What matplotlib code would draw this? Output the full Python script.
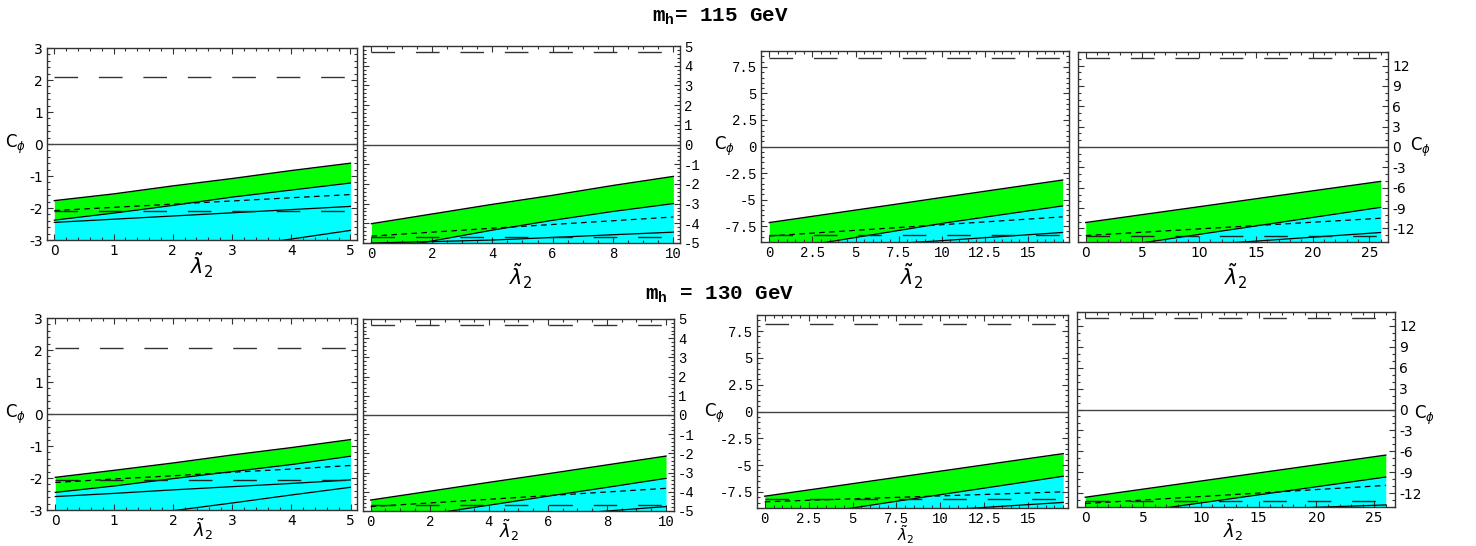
import matplotlib
matplotlib.use("Agg")
import matplotlib.pyplot as plt
from matplotlib.ticker import MultipleLocator, AutoMinorLocator

W, H = 1476, 546

# ---------------- data ----------------
titles = ["m$_\\mathregular{h}$= 115 GeV", "m$_\\mathregular{h}$ = 130 GeV"]
xlabel = r"$\tilde{\lambda}_2$"
ylabel = r"C$_\phi$"

# panel 1 (mh=115, x 0..5)
p1_x = [0, 1, 2, 3, 4, 5]
p1_upper = [-1.77, -1.56, -1.31, -1.08, -0.83, -0.60]
p1_lower = [-2.38, -2.16, -1.92, -1.66, -1.44, -1.22]
p1_solid = [-2.45, -2.35, -2.25, -2.15, -2.05, -1.95]
p1_short = [-2.08, -1.98, -1.88, -1.78, -1.68, -1.58]
p1_bottom = [-4.05, -3.78, -3.51, -3.24, -2.97, -2.70]
p1_level = 2.08

# panel 2 (mh=115, x 0..10)
p2_x = [0, 2, 4, 6, 8, 10]
p2_upper = [-4.02, -3.53, -3.04, -2.58, -2.08, -1.62]
p2_lower = [-5.40, -4.90, -4.35, -3.85, -3.40, -3.00]
p2_solid = [-5.00, -4.93, -4.85, -4.72, -4.58, -4.45]
p2_short = [-4.65, -4.45, -4.25, -4.06, -3.87, -3.68]
p2_bottom = None
p2_level = 4.69

# panel 3 (mh=115, x 0..17)
p3_x = [0, 3.4, 6.8, 10.2, 13.6, 17]
p3_upper = [-7.17, -6.37, -5.57, -4.76, -3.96, -3.16]
p3_lower = [-9.85, -9.00, -8.10, -7.20, -6.40, -5.60]
p3_solid = [-9.80, -9.55, -9.20, -8.85, -8.47, -8.10]
p3_short = [-8.43, -8.07, -7.71, -7.35, -6.99, -6.63]
p3_bottom = None
p3_level = 8.30

# panel 4 (mh=115, x 0..26)
p4_x = [0, 5.2, 10.4, 15.6, 20.8, 26]
p4_upper = [-11.13, -9.92, -8.71, -7.49, -6.28, -5.07]
p4_lower = [-15.37, -14.07, -12.78, -11.49, -10.19, -8.90]
p4_solid = [-15.60, -15.00, -14.40, -13.80, -13.20, -12.60]
p4_short = [-13.05, -12.54, -12.03, -11.52, -11.01, -10.50]
p4_bottom = None
p4_level = 13.05

# panel 5 (mh=130, x 0..5)
p5_x = [0, 1, 2, 3, 4, 5]
p5_upper = [-1.98, -1.76, -1.53, -1.28, -1.05, -0.80]
p5_lower = [-2.45, -2.25, -2.02, -1.80, -1.58, -1.32]
p5_solid = [-2.58, -2.48, -2.37, -2.27, -2.17, -2.06]
p5_short = [-2.14, -2.03, -1.93, -1.82, -1.72, -1.61]
p5_bottom = [-3.51, -3.27, -3.02, -2.78, -2.53, -2.29]
p5_level = 2.07

# panel 6 (mh=130, x 0..10)
p6_x = [0, 2, 4, 6, 8, 10]
p6_upper = [-4.43, -3.97, -3.51, -3.06, -2.60, -2.14]
p6_lower = [-5.63, -5.16, -4.70, -4.23, -3.77, -3.30]
p6_solid = [-5.92, -5.69, -5.46, -5.23, -5.00, -4.77]
p6_short = [-4.77, -4.58, -4.39, -4.20, -4.01, -3.82]
p6_bottom = None
p6_level = 4.69

# panel 7 (mh=130, x 0..17)
p7_x = [0, 3.4, 6.8, 10.2, 13.6, 17]
p7_upper = [-7.90, -7.11, -6.31, -5.52, -4.72, -3.93]
p7_lower = [-10.23, -9.39, -8.55, -7.71, -6.88, -6.04]
p7_solid = [-10.25, -9.90, -9.54, -9.19, -8.83, -8.48]
p7_short = [-8.42, -8.23, -8.05, -7.86, -7.68, -7.49]
p7_bottom = None
p7_level = 8.20

# panel 8 (mh=130, x 0..26)
p8_x = [0, 5.2, 10.4, 15.6, 20.8, 26]
p8_upper = [-12.60, -11.39, -10.18, -8.97, -7.76, -6.55]
p8_lower = [-15.74, -14.53, -13.32, -12.12, -10.91, -9.70]
p8_solid = [-15.30, -15.00, -14.70, -14.30, -14.00, -13.70]
p8_short = [-13.50, -12.98, -12.46, -11.94, -11.42, -10.90]
p8_bottom = None
p8_level = 13.10

# ---------------- layout / styles ----------------
GREEN = "#00ff00"
CYAN = "#00ffff"
SANS = "DejaVu Sans"
MONO = "Liberation Mono"

panels = [
    dict(d=(p1_x, p1_upper, p1_lower, p1_solid, p1_short, p1_bottom, p1_level),
         rect=(47, 48, 357, 240), xlim=(-0.124, 5.11), ylim=(-3, 3), xmaj=1, ymaj=1,
         xmin=5, ymin=5, side="left", font=SANS, ylab=(-0.10, 0.5), xlab=(202, 265, 15)),
    dict(d=(p2_x, p2_upper, p2_lower, p2_solid, p2_short, p2_bottom, p2_level),
         rect=(363, 46, 680, 243), xlim=(-0.28, 10.22), ylim=(-5, 5), xmaj=2, ymaj=1,
         xmin=4, ymin=5, side="right", font=MONO, ylab=None, xlab=(521, 276, 15)),
    dict(d=(p3_x, p3_upper, p3_lower, p3_solid, p3_short, p3_bottom, p3_level),
         rect=(761, 51, 1069, 242), xlim=(-0.48, 17.37), ylim=(-9, 9), xmaj=2.5, ymaj=2.5,
         xmin=5, ymin=5, side="left", font=MONO, ylab=(-0.117, 0.5), xlab=(912, 276, 15)),
    dict(d=(p4_x, p4_upper, p4_lower, p4_solid, p4_short, p4_bottom, p4_level),
         rect=(1078, 52, 1388, 242), xlim=(-0.68, 26.65), ylim=(-14, 14), xmaj=5, ymaj=3,
         xmin=5, ymin=3, side="right", font=SANS, ylab=(1.106, 0.5), xlab=(1236, 276, 15)),
    dict(d=(p5_x, p5_upper, p5_lower, p5_solid, p5_short, p5_bottom, p5_level),
         rect=(47, 318, 357, 510), xlim=(-0.14, 5.11), ylim=(-3, 3), xmaj=1, ymaj=1,
         xmin=5, ymin=5, side="left", font=SANS, ylab=(-0.10, 0.5), xlab=(203, 529, 13)),
    dict(d=(p6_x, p6_upper, p6_lower, p6_solid, p6_short, p6_bottom, p6_level),
         rect=(363, 319, 674, 511), xlim=(-0.26, 10.27), ylim=(-5, 5), xmaj=2, ymaj=1,
         xmin=4, ymin=5, side="right", font=MONO, ylab=None, xlab=(509, 530, 13)),
    dict(d=(p7_x, p7_upper, p7_lower, p7_solid, p7_short, p7_bottom, p7_level),
         rect=(757, 315, 1068, 508), xlim=(-0.44, 17.27), ylim=(-9, 9), xmaj=2.5, ymaj=2.5,
         xmin=5, ymin=5, side="left", font=MONO, ylab=(-0.138, 0.49), xlab=(906, 535, 11)),
    dict(d=(p8_x, p8_upper, p8_lower, p8_solid, p8_short, p8_bottom, p8_level),
         rect=(1077, 312, 1395, 507), xlim=(-0.72, 26.8), ylim=(-14, 14), xmaj=5, ymaj=3,
         xmin=5, ymin=3, side="right", font=SANS, ylab=(1.094, 0.47), xlab=(1233, 530, 13)),
]

fig = plt.figure(figsize=(W / 100, H / 100), dpi=100)
fig.patch.set_facecolor("white")


def fmt_num(v):
    if abs(v - round(v)) < 1e-9:
        return "%d" % int(round(v))
    return ("%g" % v)


for p in panels:
    x0, y0, x1, y1 = p["rect"]
    ax = fig.add_axes([x0 / W, 1 - y1 / H, (x1 - x0) / W, (y1 - y0) / H])
    xs, up, lo, so, sh, bo, lev = p["d"]
    ymin, ymax = p["ylim"]

    ax.fill_between(xs, lo, up, color=GREEN, lw=0, zorder=1)
    ax.fill_between(xs, [ymin - 5] * len(xs), lo, color=CYAN, lw=0, zorder=1)

    ax.plot(xs, up, color="black", lw=1.0, zorder=3)
    ax.plot(xs, lo, color="black", lw=0.9, zorder=3)
    ax.plot(xs, so, color="black", lw=0.9, zorder=3)
    if bo is not None:
        ax.plot(xs, bo, color="black", lw=0.9, zorder=3)
    ax.plot(xs, sh, color="black", lw=0.9, dashes=(4.5, 3.5), zorder=3)
    ax.plot([xs[0], xs[-1]], [lev, lev], color="#333333", lw=1.0, dashes=(17, 15), zorder=3)
    ax.plot([xs[0], xs[-1]], [-lev, -lev], color="#222222", lw=1.0, dashes=(17, 15), zorder=3)
    ax.axhline(0, color="#444444", lw=1.0, zorder=2)

    ax.set_xlim(*p["xlim"])
    ax.set_ylim(ymin, ymax)
    ax.xaxis.set_major_locator(MultipleLocator(p["xmaj"]))
    ax.yaxis.set_major_locator(MultipleLocator(p["ymaj"]))
    ax.xaxis.set_minor_locator(AutoMinorLocator(p["xmin"]))
    ax.yaxis.set_minor_locator(AutoMinorLocator(p["ymin"]))

    right = p["side"] == "right"
    ax.tick_params(which="both", direction="in", top=True, bottom=True, left=True, right=True,
                   labelleft=not right, labelright=right, color="#333333", width=0.8)
    ax.tick_params(which="major", length=4, pad=3)
    ax.tick_params(which="minor", length=2)

    xt = [t for t in ax.get_xticks() if p["xlim"][0] <= t <= p["xlim"][1]]
    yt = [t for t in ax.get_yticks() if ymin - 1e-9 <= t <= ymax + 1e-9]
    if p["font"] == SANS and p["ymaj"] == 3:
        yt = [t for t in yt if abs(t) < 13]
    if p["ymaj"] == 2.5:
        yt = [t for t in yt if abs(t) < 8.5]
    ax.set_xticks(xt)
    ax.set_yticks(yt)
    ax.set_xticklabels([fmt_num(t) for t in xt], fontfamily=p["font"], fontsize=10)
    ax.set_yticklabels([fmt_num(t) for t in yt], fontfamily=p["font"], fontsize=10)

    for s in ax.spines.values():
        s.set_color("#333333")
        s.set_linewidth(1.0)

    if p["ylab"] is not None:
        lx, ly = p["ylab"]
        ax.text(lx, ly, ylabel, transform=ax.transAxes, ha="center", va="center",
                fontsize=12, fontfamily=SANS)

    xlx, xly, xfs = p["xlab"]
    fig.text(xlx / W, 1 - xly / H, xlabel, ha="center", va="center", fontsize=xfs)

fig.text(720 / W, 1 - 17 / H, titles[0], ha="center", va="center",
         fontsize=15, fontfamily=MONO, fontweight="bold")
fig.text(720 / W, 1 - 295 / H, titles[1], ha="center", va="center",
         fontsize=15, fontfamily=MONO, fontweight="bold")

fig.savefig("out.png", dpi=100, facecolor="white")
